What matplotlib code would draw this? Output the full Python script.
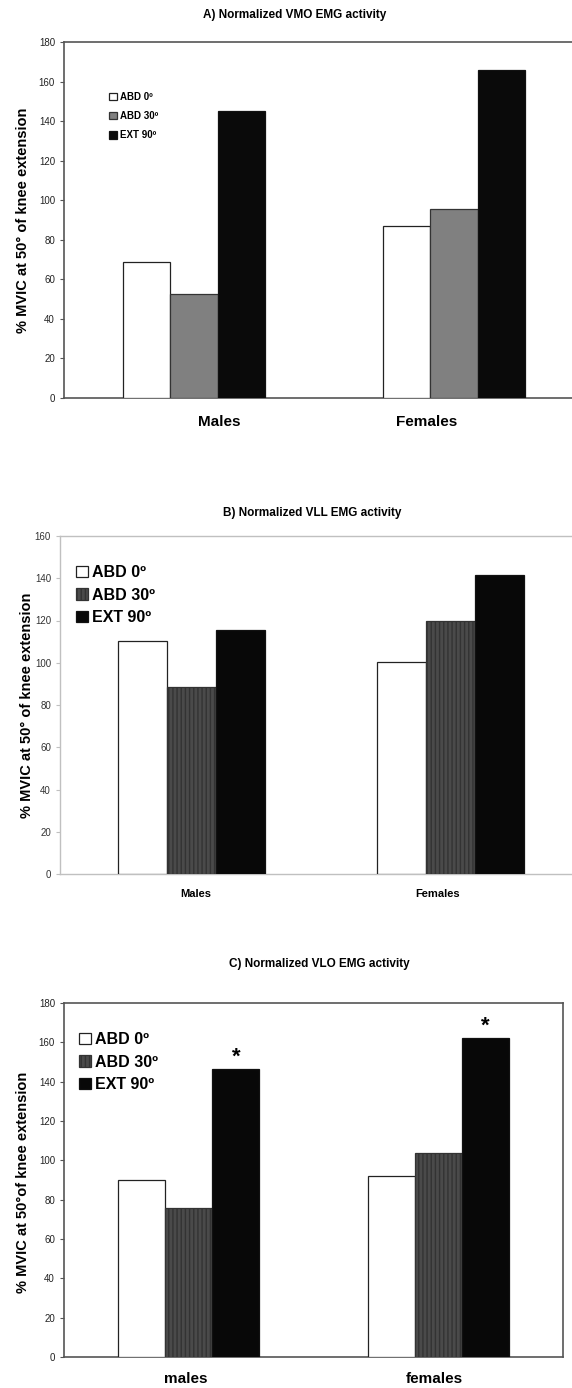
import matplotlib
matplotlib.use("Agg")
import matplotlib.pyplot as plt
import numpy as np

plt.rcParams['font.family'] = ['Liberation Sans', 'DejaVu Sans']

conditions = ["ABD 0º", "ABD 30º", "EXT 90º"]

# A) VMO
vmo_groups = ["Males", "Females"]
vmo_abd0 = [68.8, 86.8]
vmo_abd30 = [52.7, 95.7]
vmo_ext90 = [144.9, 165.7]

# B) VLL
vll_groups = ["Males", "Females"]
vll_abd0 = [110.5, 100.3]
vll_abd30 = [88.3, 119.6]
vll_ext90 = [115.3, 141.7]

# C) VLO
vlo_groups = ["males", "females"]
vlo_abd0 = [90.2, 92.1]
vlo_abd30 = [75.7, 103.5]
vlo_ext90 = [146.2, 162.0]
vlo_signif = [True, True]

W, H = 572, 1388
fig = plt.figure(figsize=(W / 100, H / 100), dpi=100)


def px_axes(left, top, right, bottom):
    return fig.add_axes([left / W, (H - bottom) / H, (right - left) / W, (bottom - top) / H])


def fig_text(x, y, s, **kw):
    fig.text(x / W, (H - y) / H, s, ha='center', va='center', **kw)


def draw_bars(ax, vals, width, colors, hatches, edges):
    x = np.arange(2)
    bars = []
    for i, v in enumerate(vals):
        b = ax.bar(x + (i - 1) * width, v, width, color=colors[i], edgecolor=edges[i],
                   hatch=hatches[i], linewidth=0.9, label=conditions[i], zorder=3)
        bars.append(b)
    return bars


ylab = "% MVIC at 50° of knee extension"

# ---------- Panel A ----------
axA = px_axes(64, 42, 584, 398)
draw_bars(axA, [vmo_abd0, vmo_abd30, vmo_ext90], 0.183,
          ['white', '#808080', '#0a0a0a'], [None, None, None], ['#222222', '#333333', '#111111'])
axA.set_xlim(-0.5, 1.5)
axA.set_ylim(0, 180)
axA.set_yticks(np.arange(0, 181, 20))
axA.set_xticks([])
for s in ['left', 'bottom', 'top']:
    axA.spines[s].set_color('#555555')
    axA.spines[s].set_linewidth(1.2)
axA.spines['right'].set_visible(False)
axA.tick_params(axis='y', labelsize=7, length=3, colors='#555555', labelcolor='#222222')
fig_text(23, 220, ylab, fontsize=10.5, fontweight='bold', rotation=90)
fig_text(295, 15, "A) Normalized VMO EMG activity", fontsize=8.5, fontweight='bold')
fig_text(219, 422, vmo_groups[0], fontsize=11, fontweight='bold')
fig_text(427, 422, vmo_groups[1], fontsize=11, fontweight='bold')
axA.legend(loc='upper left', bbox_to_anchor=(105 / W, (H - 88) / H), bbox_transform=fig.transFigure,
           frameon=False, prop={'weight': 'bold', 'size': 7}, handlelength=0.8,
           handleheight=0.8, handletextpad=0.3, labelspacing=0.95, borderaxespad=0)

# ---------- Panel B ----------
axB = px_axes(60, 536, 572, 874)
draw_bars(axB, [vll_abd0, vll_abd30, vll_ext90], 0.189,
          ['white', '#4a4a4a', '#080808'], [None, '||||', None], ['#222222', '#333333', '#111111'])
axB.set_xlim(-0.508, 1.469)
axB.set_ylim(0, 160)
axB.set_yticks(np.arange(0, 161, 20))
axB.set_xticks([])
for s in ['left', 'bottom', 'top']:
    axB.spines[s].set_color('#c0c0c0')
    axB.spines[s].set_linewidth(1.0)
axB.spines['right'].set_visible(False)
axB.tick_params(axis='y', labelsize=7, length=3, colors='#c0c0c0', labelcolor='#333333')
fig_text(27, 705, ylab, fontsize=10.5, fontweight='bold', rotation=90)
fig_text(312, 513, "B) Normalized VLL EMG activity", fontsize=8.5, fontweight='bold')
fig_text(196, 894, vll_groups[0], fontsize=8, fontweight='bold')
fig_text(438, 894, vll_groups[1], fontsize=8, fontweight='bold')
axB.legend(loc='upper left', bbox_to_anchor=(70 / W, (H - 559) / H), bbox_transform=fig.transFigure,
           frameon=False, prop={'weight': 'bold', 'size': 11.5}, handlelength=0.7,
           handleheight=0.7, handletextpad=0.25, labelspacing=0.45, borderaxespad=0)

# ---------- Panel C ----------
axC = px_axes(64, 1003, 563, 1357)
barsC = draw_bars(axC, [vlo_abd0, vlo_abd30, vlo_ext90], 0.189,
                  ['white', '#4a4a4a', '#080808'], [None, '||||', None], ['#222222', '#333333', '#111111'])
axC.set_xlim(-0.5, 1.5)
axC.set_ylim(0, 180)
axC.set_yticks(np.arange(0, 181, 20))
axC.set_xticks([])
for s in ['left', 'bottom', 'top', 'right']:
    axC.spines[s].set_color('#555555')
    axC.spines[s].set_linewidth(1.2)
axC.tick_params(axis='y', labelsize=7, length=3, colors='#555555', labelcolor='#222222')
fig_text(23, 1182, "% MVIC at 50°of knee extension", fontsize=10.5, fontweight='bold', rotation=90)
for rect, sig in zip(barsC[2], vlo_signif):
    if sig:
        axC.annotate("*", (rect.get_x() + rect.get_width() / 2, rect.get_height()),
                     xytext=(0, 1), textcoords='offset points', ha='center', va='bottom',
                     fontsize=16, fontweight='bold')
fig_text(319, 964, "C) Normalized VLO EMG activity", fontsize=8.5, fontweight='bold')
fig_text(186, 1379, vlo_groups[0], fontsize=11, fontweight='bold')
fig_text(434, 1379, vlo_groups[1], fontsize=11, fontweight='bold')
axC.legend(loc='upper left', bbox_to_anchor=(73 / W, (H - 1026) / H), bbox_transform=fig.transFigure,
           frameon=False, prop={'weight': 'bold', 'size': 11.5}, handlelength=0.7,
           handleheight=0.7, handletextpad=0.25, labelspacing=0.45, borderaxespad=0)

fig.savefig("out.png", dpi=100)
